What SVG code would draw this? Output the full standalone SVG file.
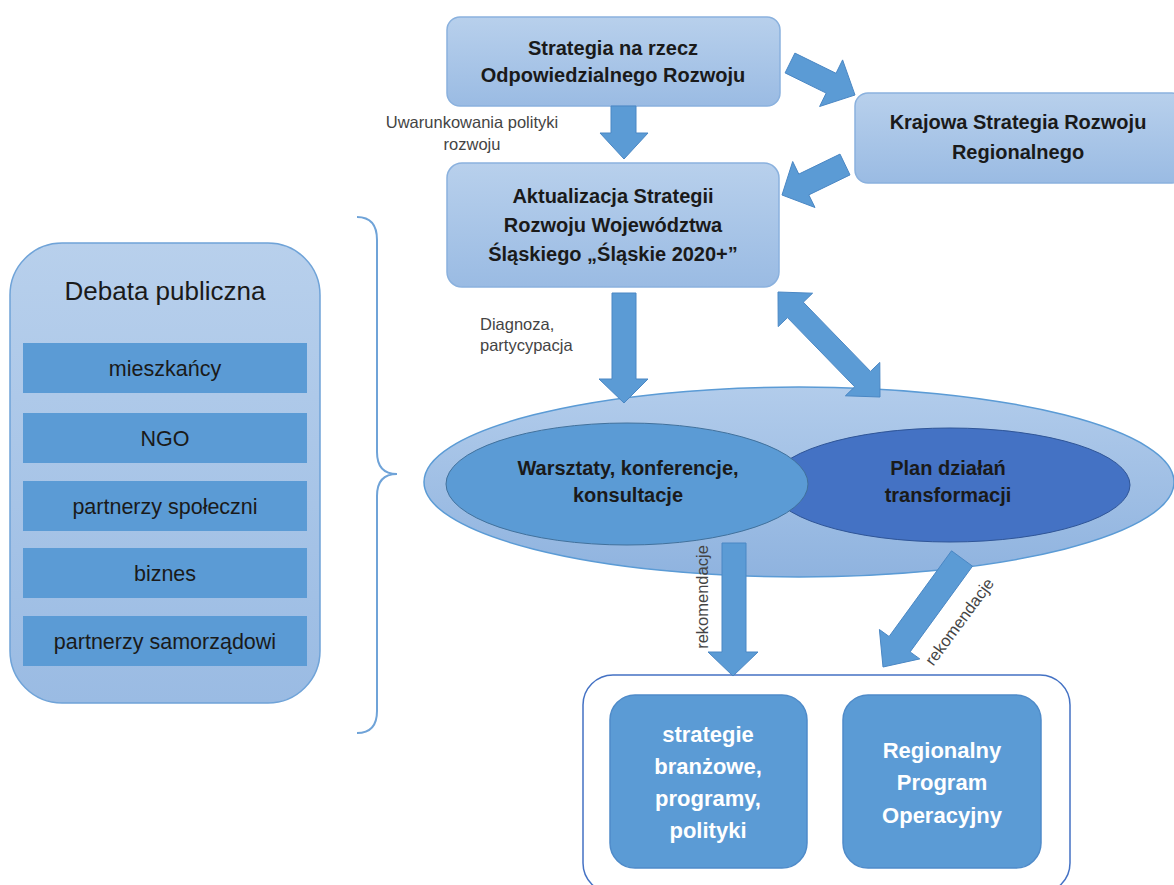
<svg xmlns="http://www.w3.org/2000/svg" width="1174" height="885" viewBox="0 0 1174 885">
<defs>
<linearGradient id="gBox" x1="0" y1="0" x2="0" y2="1">
<stop offset="0" stop-color="#b8d0ec"/>
<stop offset="1" stop-color="#9abbe3"/>
</linearGradient>
<linearGradient id="gEll" x1="0" y1="0" x2="0" y2="1">
<stop offset="0" stop-color="#b2cceb"/>
<stop offset="1" stop-color="#8fb3df"/>
</linearGradient>
</defs>
<style>
.box{fill:url(#gBox);stroke:#8ab1de;stroke-width:1.5}
.arrow{fill:#5b9bd5;stroke:#4a87c4;stroke-width:1}
.bt{font-family:"Liberation Sans",Arial,sans-serif;font-weight:bold;font-size:20px;fill:#1a1a1a;text-anchor:middle}
.wt{font-family:"Liberation Sans",Arial,sans-serif;font-weight:bold;font-size:22px;fill:#ffffff;text-anchor:middle}
.rt{font-family:"Liberation Sans",Arial,sans-serif;font-size:21.5px;fill:#1a1a1a;text-anchor:middle}
.title{font-family:"Liberation Sans",Arial,sans-serif;font-size:26px;fill:#1a1a1a;text-anchor:middle}
.lbl{font-family:"Liberation Sans",Arial,sans-serif;font-size:16.5px;fill:#444444}
.row{fill:#5b9bd5}
.ib{fill:#5b9bd5;stroke:#4f8bc9;stroke-width:1.5}
</style>

<g id="debata">
<rect x="10" y="243" width="310" height="460" rx="52" fill="url(#gBox)" stroke="#6fa3d8" stroke-width="1.5"/>
<text class="title" x="165" y="300">Debata publiczna</text>
<rect class="row" x="23" y="343" width="284" height="50"/>
<text class="rt" x="165" y="376">mieszkańcy</text>
<rect class="row" x="23" y="413" width="284" height="50"/>
<text class="rt" x="165" y="446">NGO</text>
<rect class="row" x="23" y="481" width="284" height="50"/>
<text class="rt" x="165" y="514">partnerzy społeczni</text>
<rect class="row" x="23" y="548" width="284" height="50"/>
<text class="rt" x="165" y="581">biznes</text>
<rect class="row" x="23" y="616" width="284" height="50"/>
<text class="rt" x="165" y="649">partnerzy samorządowi</text>
</g>

<g id="brace">
<path d="M357,217 Q377,217 377,240 L377,452 Q377,474 397,474 Q377,474 377,496 L377,711 Q377,733 357,733" fill="none" stroke="#6fa3d8" stroke-width="2"/>
</g>

<g id="sor">
<rect class="box" x="447" y="17" width="333" height="89" rx="13"/>
<text class="bt" x="613" y="55">Strategia na rzecz</text>
<text class="bt" x="613" y="82">Odpowiedzialnego Rozwoju</text>
</g>

<g id="ksrr">
<rect class="box" x="855" y="93" width="330" height="90" rx="13"/>
<text class="bt" x="1018" y="129">Krajowa Strategia Rozwoju</text>
<text class="bt" x="1018" y="159">Regionalnego</text>
</g>

<g id="aktualizacja">
<rect class="box" x="447" y="163" width="332" height="124" rx="15"/>
<text class="bt" x="613" y="203">Aktualizacja Strategii</text>
<text class="bt" x="613" y="232">Rozwoju Województwa</text>
<text class="bt" x="613" y="261">Śląskiego „Śląskie 2020+”</text>
</g>

<g id="ellipse-group">
<ellipse cx="799" cy="482" rx="375" ry="95" fill="url(#gEll)" stroke="#5b9bd5" stroke-width="1.5"/>
<g id="plan">
<ellipse cx="950" cy="485" rx="180" ry="57" fill="#4472c4" stroke="#2f5597" stroke-width="1"/>
<text class="bt" x="948" y="475">Plan działań</text>
<text class="bt" x="948" y="502">transformacji</text>
</g>
<g id="warsztaty">
<ellipse cx="627" cy="484" rx="181" ry="61" fill="#5b9bd5" stroke="#41719c" stroke-width="1"/>
<text class="bt" x="628" y="475">Warsztaty, konferencje,</text>
<text class="bt" x="628" y="502">konsultacje</text>
</g>
</g>

<g id="outputs">
<rect x="583" y="675" width="487" height="218" rx="30" fill="#ffffff" stroke="#4472c4" stroke-width="1.5"/>
<g id="strategie">
<rect class="ib" x="610" y="695" width="197" height="173" rx="25"/>
<text class="wt" x="708" y="742">strategie</text>
<text class="wt" x="708" y="774">branżowe,</text>
<text class="wt" x="708" y="806">programy,</text>
<text class="wt" x="708" y="838">polityki</text>
</g>
<g id="rpo">
<rect class="ib" x="843" y="695" width="198" height="173" rx="25"/>
<text class="wt" x="942" y="758">Regionalny</text>
<text class="wt" x="942" y="790">Program</text>
<text class="wt" x="942" y="823">Operacyjny</text>
</g>
</g>

<g id="connectors">
<polygon class="arrow" points="611,106 636,106 636,133 648,133 624,159 600,133 611,133"/>
<polygon class="arrow" points="794.9,53.1 836,73.3 842.6,59.9 855,95 819.6,106.5 826.2,93.1 785.1,72.9"/>
<polygon class="arrow" points="840,154.1 850,174.9 808.8,194.9 815,207.5 782,195 792.7,161.5 798.8,174.1"/>
<polygon class="arrow" points="612,293 636,293 636,379 648,379 624,403 599,379 612,379"/>
<polygon class="arrow" points="778,292 812.6,293.2 803.3,302.2 870.5,371.4 879.8,362.4 880,397 845.4,395.8 854.7,386.8 787.5,317.6 778.2,326.6"/>
<polygon class="arrow" points="722,543 746,543 746,652 758,652 733,676 708,652 722,652"/>
<polygon class="arrow" points="951.5,550.8 972.5,566.2 910.1,651.9 919.8,658.9 883,667 879.4,629.5 889.1,636.5"/>
<text class="lbl" x="472" y="128" text-anchor="middle">Uwarunkowania polityki</text>
<text class="lbl" x="472" y="150" text-anchor="middle">rozwoju</text>
<text class="lbl" x="480" y="330">Diagnoza,</text>
<text class="lbl" x="480" y="351">partycypacja</text>
<text class="lbl" x="708" y="597" text-anchor="middle" transform="rotate(-90 708 597)">rekomendacje</text>
<text class="lbl" x="964" y="625" text-anchor="middle" transform="rotate(-53.6 964 625)">rekomendacje</text>
</g>
</svg>
